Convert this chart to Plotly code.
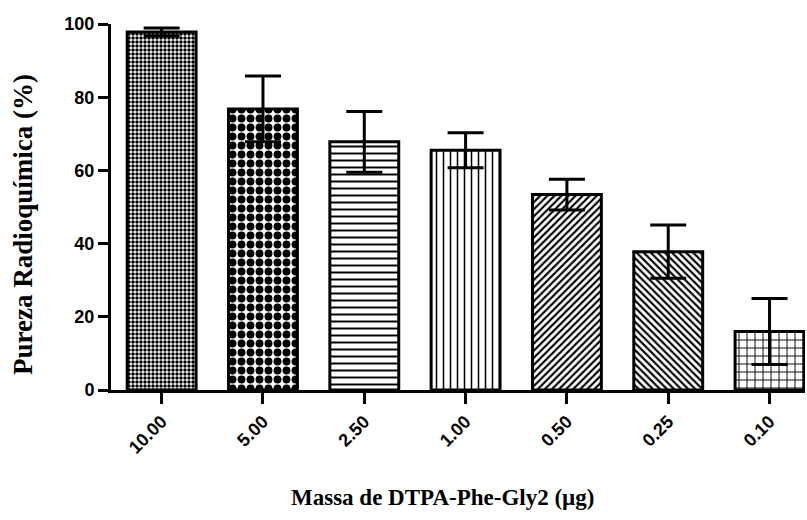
import plotly.graph_objects as go

categories = ["10.00", "5.00", "2.50", "1.00", "0.50", "0.25", "0.10"]
pureza = [97.8, 76.8, 67.8, 65.5, 53.4, 37.8, 16.0]
erro = [1.1, 9.0, 8.3, 4.8, 4.2, 7.3, 9.0]
y_ticks = [0, 20, 40, 60, 80, 100]

pattern_shapes = [".", ".", "-", "|", "/", "\\", "+"]
pattern_sizes = [4, 9, 7, 7, 5, 5, 8]
pattern_solid = [0.6, 0.6, 0.28, 0.22, 0.42, 0.42, 0.22]

W, H = 807, 520
ml, mr, mt, mb = 111, 2, 24, 130
pw, ph = W - ml - mr, H - mt - mb

fig = go.Figure()
fig.add_trace(go.Bar(
    x=list(range(len(categories))),
    y=pureza,
    width=0.68,
    marker=dict(
        color="white",
        line=dict(color="black", width=3),
        pattern=dict(shape=pattern_shapes, size=pattern_sizes, solidity=pattern_solid,
                     fgcolor="black", bgcolor="white", fillmode="replace"),
    ),
    error_y=dict(type="data", array=erro, visible=True, color="black", thickness=3, width=18),
    showlegend=False,
))

fig.update_layout(
    width=W, height=H,
    margin=dict(l=ml, r=mr, t=mt, b=mb),
    paper_bgcolor="white", plot_bgcolor="white",
)
fig.update_xaxes(
    range=[-0.5, 6.35],
    tickmode="array", tickvals=list(range(len(categories))), ticktext=categories,
    tickangle=-45,
    tickfont=dict(family="Liberation Sans", size=18, color="black", weight="bold"),
    showline=True, linecolor="black", linewidth=3,
    ticks="outside", ticklen=11, tickwidth=3, tickcolor="black",
    showgrid=False, zeroline=False,
)
fig.update_yaxes(
    range=[0, 100],
    tickmode="array", tickvals=y_ticks,
    tickfont=dict(family="Liberation Sans", size=18, color="black", weight="bold"),
    showline=True, linecolor="black", linewidth=3,
    ticks="outside", ticklen=10, tickwidth=3, tickcolor="black",
    showgrid=False, zeroline=False,
)

fig.add_annotation(
    text="Pureza Radioquímica (%)",
    xref="paper", yref="paper",
    x=(23 - ml) / pw, y=(H - mb - 225) / ph,
    xanchor="center", yanchor="middle", textangle=-90, showarrow=False,
    font=dict(family="Liberation Serif", size=27, color="black", weight="bold"),
)
fig.add_annotation(
    text="Massa de DTPA-Phe-Gly2 (µg)",
    xref="paper", yref="paper",
    x=(442 - ml) / pw, y=(H - mb - 498) / ph,
    xanchor="center", yanchor="middle", showarrow=False,
    font=dict(family="Liberation Serif", size=23, color="black", weight="bold"),
)

fig.write_html("out.html")
